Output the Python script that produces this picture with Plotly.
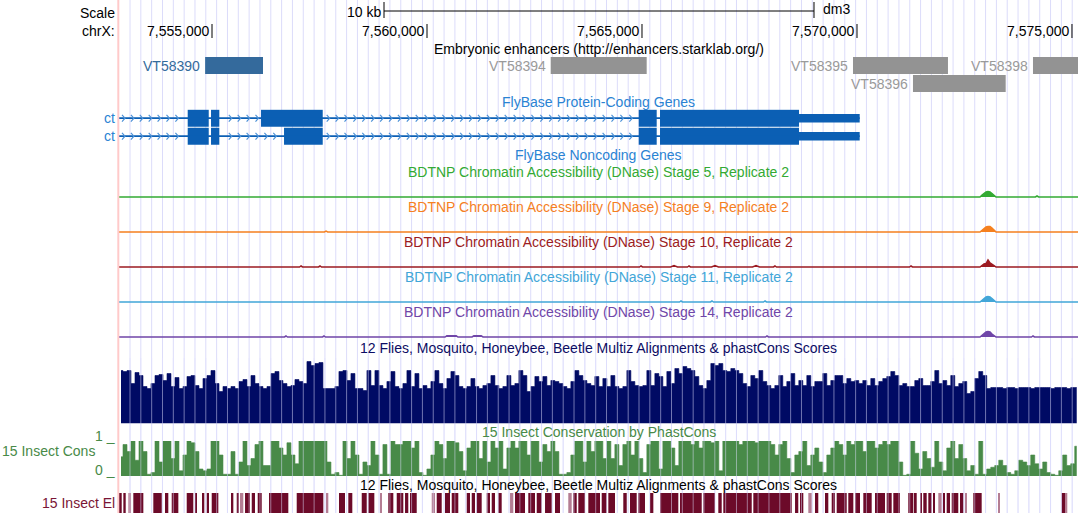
import numpy as np
import plotly.graph_objects as go

# ---------------------------------------------------------------- data
view_range = [7552837, 7575140]          # chrX window shown

ruler_ticks = [7555000, 7560000, 7565000, 7570000, 7575000]
ruler_tick_text = ["7,555,000", "7,560,000", "7,565,000", "7,570,000", "7,575,000"]
scale_bar = [7559000, 7569000]
scale_text = "10 kb"
assembly = "dm3"
chrom_label = "chrX:"

# Embryonic enhancers
enh_names = ["VT58390", "VT58394", "VT58395", "VT58396", "VT58398"]
enh_start = [7554840, 7562877, 7569907, 7571302, 7574093]
enh_end = [7556186, 7565109, 7572116, 7573458, 7576000]
enh_row = [0, 0, 0, 1, 0]

# FlyBase protein-coding genes (two ct transcripts)
gene_names = ["ct", "ct"]
gene_row = [0, 1]
gene_tx_start = [7552000, 7552000]
gene_cds_end = [7568652, 7568652]
gene_tx_end = [7570063, 7570063]
gene_exon_starts = [[7554435, 7554977, 7556140, 7564924, 7565419],
                    [7554435, 7554977, 7556675, 7564924, 7565419]]
gene_exon_ends = [[7554924, 7555170, 7557575, 7565342, 7570063],
                  [7554924, 7555170, 7557575, 7565342, 7570063]]

# BDTNP DNase accessibility (signal, arbitrary units)
dnase_titles = ["BDTNP Chromatin Accessibility (DNase) Stage 5, Replicate 2",
                "BDTNP Chromatin Accessibility (DNase) Stage 9, Replicate 2",
                "BDTNP Chromatin Accessibility (DNase) Stage 10, Replicate 2",
                "BDTNP Chromatin Accessibility (DNase) Stage 11, Replicate 2",
                "BDTNP Chromatin Accessibility (DNase) Stage 14, Replicate 2"]
stage5_pos = [7552837, 7572861, 7572908, 7572954, 7573001, 7573047, 7573094, 7573140, 7573187, 7573233,
              7574150, 7574187, 7574224, 7575140]
stage5_val = [0, 0, 2, 4, 5, 5.5, 5, 3.5, 1.5, 0, 0, 1, 0, 0]
stage9_pos = [7552837, 7557615, 7557652, 7557690,
              7572861, 7572908, 7572954, 7573001, 7573047, 7573094, 7573140, 7573187, 7573233, 7575140]
stage9_val = [0, 0, 0.8, 0, 0, 1.5, 3.5, 5, 5.5, 5.5, 4, 2, 0, 0]
stage10_pos = [7552837, 7557035, 7557070, 7557105, 7557477, 7557512, 7557547, 7564942, 7564977, 7565012,
               7565665, 7565745, 7565825, 7566058, 7566093, 7566128, 7566618, 7566698, 7566778,
               7567572, 7567652, 7567732, 7568058, 7568093, 7568128, 7569151, 7569186, 7569221,
               7571221, 7571256, 7571291,
               7572861, 7572908, 7572954, 7573001, 7573047, 7573094, 7573140, 7573187, 7573233, 7575140]
stage10_val = [0, 0, 1, 0, 0, 1, 0, 0, 1, 0,
               0, 1.5, 0, 0, 1, 0, 0, 1.5, 0,
               0, 1.5, 0, 0, 1, 0, 0, 0.7, 0,
               0, 1, 0,
               0, 2, 3, 3.5, 7, 4, 3, 1.5, 0, 0]
stage11_pos = [7552837, 7565872, 7565907, 7565942, 7566593, 7566628, 7566663, 7567826, 7567861, 7567896,
               7572861, 7572908, 7572954, 7573001, 7573047, 7573094, 7573140, 7573187, 7573233, 7575140]
stage11_val = [0, 0, 1, 0, 0, 1, 0, 0, 1, 0, 0, 1.5, 3.5, 5, 5.5, 5, 3.5, 1.5, 0, 0]
stage14_pos = [7552837, 7556686, 7556721, 7556756, 7557570, 7557605, 7557640,
               7560419, 7560460, 7560680, 7560721, 7561047, 7561090, 7561260, 7561303,
               7567872, 7567907, 7567942,
               7572861, 7572908, 7572954, 7573001, 7573047, 7573094, 7573140, 7573187, 7573233,
               7574058, 7574093, 7574128, 7575140]
stage14_val = [0, 0, 1, 0, 0, 1, 0,
               0, 1.2, 1.2, 0, 0, 1.2, 1.2, 0,
               0, 1, 0,
               0, 1.5, 3.5, 5, 5.5, 5, 3, 1.5, 0,
               0, 1, 0, 0]

# 12 flies multiz / phastCons scores, one value per 93 bp bin
cons_bin_start = 7552837
cons_bin_bp = 93
multiz_values = [
    53, 52, 53, 40, 51, 48, 37, 35, 40, 48, 49, 43, 50, 37, 46, 35, 37, 47, 48, 38,
    35, 45, 48, 53, 40, 32, 37, 35, 37, 35, 42, 44, 37, 48, 40, 37, 35, 37, 50, 52,
    43, 40, 37, 38, 44, 42, 40, 62, 58, 60, 61, 35, 35, 35, 37, 52, 53, 43, 50, 35,
    35, 33, 53, 38, 53, 38, 35, 42, 52, 37, 35, 40, 53, 37, 50, 35, 38, 35, 42, 53,
    40, 35, 45, 52, 48, 37, 35, 37, 45, 37, 35, 38, 40, 48, 38, 35, 37, 48, 38, 40,
    53, 48, 32, 37, 47, 42, 47, 38, 43, 42, 40, 37, 35, 42, 53, 48, 43, 40, 38, 47,
    37, 45, 37, 48, 37, 35, 37, 53, 42, 38, 37, 38, 53, 38, 50, 47, 37, 52, 40, 55,
    50, 57, 55, 53, 47, 38, 35, 43, 60, 58, 60, 53, 52, 55, 53, 50, 40, 37, 48, 45,
    53, 42, 38, 35, 38, 48, 37, 42, 50, 38, 43, 38, 48, 37, 42, 42, 50, 38, 43, 48,
    48, 40, 45, 42, 43, 40, 43, 38, 45, 38, 42, 45, 47, 52, 48, 38, 40, 37, 37, 43,
    45, 38, 38, 42, 53, 40, 43, 38, 48, 37, 40, 42, 30, 32, 45, 52, 48, 35, 36, 36,
    36, 35, 36, 36, 35, 36, 36, 36, 35, 36, 36, 36, 36, 35, 36, 36, 36, 35, 36, 36]
phastcons_values = [
    .55, .9, .7, 1, .45, 1, .7, .05, .1, 1, .4, 1, 1, .5, 1, .15, .6, 1, .95, .7,
    .2, .15, .2, 1, 1, .6, .05, .05, .7, .05, .4, 1, .3, .5, .9, 1, .3, .3, 1, 1,
    .8, .6, .95, .6, .35, 1, 1, 1, 1, 1, 1, 1, .4, .05, .1, .02, 1, .5, 1, .6,
    .05, .4, .3, 1, .6, .05, .9, .05, 1, .9, .9, 1, 1, .8, 1, .1, .02, .2, .6, 1,
    .9, .5, 1, 1, .95, .7, .15, .8, 1, 1, .5, 1, .4, 1, .8, 1, .2, .8, 1, .8,
    1, 1, .6, 1, 1, .4, .9, .7, 1, .7, .05, .05, .1, .6, 1, 1, .4, 1, .7, 1,
    1, .5, 1, .5, .9, .3, .9, 1, .6, 1, .5, .1, .9, 1, 1, .2, 1, 1, .8, .3,
    1, 1, 1, .9, 1, .8, 1, 1, .95, 1, .15, 1, 1, 1, 1, .9, 1, 1, 1, .95,
    1, 1, 1, .9, .6, .9, 1, .5, .1, .6, .7, 1, .3, .6, .8, .4, .1, .6, .8, 1,
    .9, .6, 1, .9, 1, 1, .7, 1, 1, .8, .9, 1, .9, 1, 1, .4, .02, .05, 1, .65,
    .2, .7, .5, .25, 1, .4, .15, .8, 1, .5, .9, .5, .15, .3, .05, 1, .05, .2, .25, .3,
    .45, .3, .1, .05, .15, .45, .4, .3, .6, .35, .2, .4, .1, .05, .02, .15, .6, .3, .35, .85]

# 15 insect conserved elements
el_start = [7552854, 7552938, 7553054, 7553170, 7553635, 7553907, 7554063, 7554412, 7554605, 7554775,
            7554877, 7554993, 7555458, 7555575, 7555651, 7555768, 7555924, 7556063, 7556326, 7556970,
            7557668, 7557954, 7558170, 7558482, 7558635, 7558907, 7559100, 7559296, 7559489, 7559605,
            7560110, 7560226, 7560419, 7560575, 7560924, 7561040, 7561156, 7561389, 7561505, 7561659,
            7561931, 7562047, 7562356, 7562552, 7562745, 7562977, 7563286, 7563403, 7563519, 7563752,
            7564063, 7564217, 7564565, 7564721, 7564914, 7565186, 7565419, 7565884, 7566426, 7566775,
            7566891, 7567589, 7568559, 7568675, 7568868, 7569024, 7569256, 7569412, 7569528, 7569798,
            7569954, 7570147, 7570419, 7570691, 7570845, 7571193, 7571349, 7571466, 7571542, 7571659,
            7571775, 7571891, 7572007, 7572086, 7572203, 7572396, 7572512, 7572705, 7573287, 7574761,
            7574854]
el_end = [7552900, 7552993, 7553117, 7553403, 7553831, 7553984, 7554217, 7554565, 7554645, 7554821,
          7554930, 7555147, 7555496, 7555628, 7555728, 7555884, 7556000, 7556156, 7556775, 7557589,
          7557705, 7558093, 7558263, 7558598, 7558775, 7558947, 7559217, 7559449, 7559565, 7559761,
          7560186, 7560342, 7560535, 7560728, 7561000, 7561117, 7561272, 7561465, 7561582, 7561737,
          7562007, 7562279, 7562512, 7562668, 7562900, 7563093, 7563365, 7563482, 7563675, 7564024,
          7564179, 7564372, 7564645, 7564877, 7565070, 7565264, 7565845, 7566389, 7566698, 7566854,
          7567552, 7568482, 7568635, 7568752, 7568947, 7569100, 7569333, 7569489, 7569761, 7569915,
          7570070, 7570342, 7570652, 7570807, 7571000, 7571310, 7571389, 7571505, 7571621, 7571737,
          7571814, 7571970, 7572047, 7572163, 7572356, 7572473, 7572552, 7572900, 7573326, 7574838,
          7574891]
el_score = [1000, 1000, 500, 1000, 1000, 1000, 1000, 1000, 1000, 1000,
            1000, 1000, 1000, 1000, 500, 1000, 1000, 1000, 1000, 1000,
            500, 1000, 1000, 1000, 1000, 500, 1000, 1000, 1000, 1000,
            500, 1000, 1000, 1000, 1000, 1000, 1000, 1000, 1000, 1000,
            500, 1000, 1000, 1000, 1000, 1000, 500, 1000, 1000, 1000,
            1000, 1000, 1000, 1000, 1000, 1000, 1000, 1000, 1000, 1000,
            1000, 1000, 1000, 1000, 500, 1000, 1000, 1000, 1000, 1000,
            1000, 1000, 1000, 1000, 1000, 1000, 1000, 1000, 1000, 1000,
            1000, 500, 1000, 1000, 1000, 1000, 500, 1000, 500, 1000,
            500]

# ---------------------------------------------------------------- layout helpers
FIG_W, FIG_H = 1078, 513
MARGIN_L = 119
PLOT_W = FIG_W - MARGIN_L
FONT = "Liberation Sans, Arial, Helvetica, sans-serif"
BP_PER_PX = (view_range[1] - view_range[0]) / PLOT_W


def py2p(py):
    return 1 - py / FIG_H


def px2p(px):
    return (px - MARGIN_L) / PLOT_W


def dom(top, bottom):
    return [py2p(bottom), py2p(top)]


GENE_BLUE = "#0b5fb4"
LABEL_BLUE = "#2a83d3"
dnase_colors = ["#33aa33", "#f5801f", "#9c1b22", "#42a6d8", "#7046a8"]
dnase_baseline_py = [197, 232, 267, 302, 337]
dnase_title_py = [172, 207, 242, 277, 312]
NAVY = "#000a64"
CONS_GREEN = "#488a48"
EL_DARK = "#6c0a29"
EL_LIGHT = "#b47d93"

fig = go.Figure()
annotations = []
shapes = []

# ---------------------------------------------------------------- guidelines
grid_pos = np.arange(view_range[0] + 11 * BP_PER_PX, view_range[1], 10.83 * BP_PER_PX)
for g in grid_pos:
    shapes.append(dict(type="line", xref="x", yref="paper", x0=g, x1=g, y0=0, y1=1,
                       line=dict(color="#dcdcfa", width=1), layer="below"))
    shapes.append(dict(type="line", xref="x", yref="paper", x0=g, x1=g, y0=py2p(513), y1=py2p(358),
                       line=dict(color="rgba(225,225,255,0.5)", width=1), layer="above"))
shapes.append(dict(type="line", xref="paper", yref="paper", x0=px2p(118.3), x1=px2p(118.3), y0=0, y1=1,
                   line=dict(color="#ffcaca", width=2), layer="above"))

# ---------------------------------------------------------------- ruler
annotations.append(dict(text="Scale", xref="paper", yref="paper", x=px2p(117), y=py2p(13),
                        xanchor="right", yanchor="middle", showarrow=False, font=dict(family=FONT, size=14, color="black")))
annotations.append(dict(text=chrom_label, xref="paper", yref="paper", x=px2p(117), y=py2p(31),
                        xanchor="right", yanchor="middle", showarrow=False, font=dict(family=FONT, size=14, color="black")))
for t, txt in zip(ruler_ticks, ruler_tick_text):
    shapes.append(dict(type="line", xref="x", yref="paper", x0=t, x1=t, y0=py2p(24), y1=py2p(38),
                       line=dict(color="black", width=1)))
    annotations.append(dict(text=txt, xref="x", yref="paper", x=t, y=py2p(31), xanchor="right", xshift=-1,
                            yanchor="middle", showarrow=False, font=dict(family=FONT, size=14, color="black")))
shapes.append(dict(type="line", xref="x", yref="paper", x0=scale_bar[0], x1=scale_bar[1], y0=py2p(11), y1=py2p(11),
                   line=dict(color="black", width=1)))
for s in scale_bar:
    shapes.append(dict(type="line", xref="x", yref="paper", x0=s, x1=s, y0=py2p(2), y1=py2p(18),
                       line=dict(color="black", width=1)))
annotations.append(dict(text=scale_text, xref="x", yref="paper", x=scale_bar[0], y=py2p(12), xanchor="right", xshift=-1,
                        yanchor="middle", showarrow=False, font=dict(family=FONT, size=14, color="black")))
annotations.append(dict(text=assembly, xref="x", yref="paper", x=scale_bar[1], y=py2p(9), xanchor="left", xshift=7,
                        yanchor="middle", showarrow=False, font=dict(family=FONT, size=14, color="black")))


def title(text, py, color):
    annotations.append(dict(text=text, xref="paper", yref="paper", x=0.5, y=py2p(py), xanchor="center",
                            yanchor="middle", showarrow=False, font=dict(family=FONT, size=14, color=color)))


# ---------------------------------------------------------------- enhancers
title("Embryonic enhancers (http://enhancers.starklab.org/)", 49, "black")
enh_colors = ["#346a9c" if i == 0 else "#939393" for i in range(len(enh_names))]
enh_label_colors = ["#346a9c" if i == 0 else "#9a9a9a" for i in range(len(enh_names))]
fig.add_trace(go.Bar(orientation="h", y=enh_row, base=enh_start,
                     x=[e - s for s, e in zip(enh_start, enh_end)], width=0.94,
                     marker=dict(color=enh_colors, line=dict(width=0)), xaxis="x", yaxis="y",
                     hoverinfo="skip", showlegend=False))
for n, s, r, c in zip(enh_names, enh_start, enh_row, enh_label_colors):
    annotations.append(dict(text=n, xref="x", yref="y", x=s, y=r, xanchor="right", xshift=-3,
                            yanchor="middle", showarrow=False, font=dict(family=FONT, size=14, color=c)))

# ---------------------------------------------------------------- genes
title("FlyBase Protein-Coding Genes", 102, LABEL_BLUE)
title("FlyBase Noncoding Genes", 155, LABEL_BLUE)
chev_first = view_range[0] + 6 * BP_PER_PX
chev_step = 8.9 * BP_PER_PX
chev_w = 3.0 * BP_PER_PX
for k in range(len(gene_names)):
    row = gene_row[k]
    fig.add_trace(go.Scatter(x=[gene_tx_start[k], gene_tx_end[k]], y=[row, row], mode="lines",
                             line=dict(color=GENE_BLUE, width=1.8), xaxis="x", yaxis="y2",
                             hoverinfo="skip", showlegend=False))
    starts, ends = gene_exon_starts[k], gene_exon_ends[k]
    thick_b, thick_l, thin_b, thin_l = [], [], [], []
    for s, e in zip(starts, ends):
        ce = min(e, gene_cds_end[k])
        if ce > s:
            thick_b.append(s); thick_l.append(ce - s)
        if e > gene_cds_end[k]:
            ts = max(s, gene_cds_end[k])
            thin_b.append(ts); thin_l.append(e - ts)
    fig.add_trace(go.Bar(orientation="h", y=[row] * len(thick_b), base=thick_b, x=thick_l, width=0.94,
                         marker=dict(color=GENE_BLUE, line=dict(width=0)), xaxis="x", yaxis="y2",
                         hoverinfo="skip", showlegend=False))
    fig.add_trace(go.Bar(orientation="h", y=[row] * len(thin_b), base=thin_b, x=thin_l, width=0.48,
                         marker=dict(color=GENE_BLUE, line=dict(width=0)), xaxis="x", yaxis="y2",
                         hoverinfo="skip", showlegend=False))
    # intron chevrons
    gaps = [(gene_tx_start[k], starts[0])] + list(zip(ends[:-1], starts[1:]))
    cx, cy = [], []
    for p in np.arange(chev_first, gene_tx_end[k], chev_step):
        if any(a + 20 <= p - chev_w and p <= b - 20 for a, b in gaps):
            cx += [p - chev_w, p, p - chev_w, None]
            cy += [row - 0.19, row, row + 0.19, None]
    fig.add_trace(go.Scatter(x=cx, y=cy, mode="lines", line=dict(color="#4f93d8", width=1.2),
                             xaxis="x", yaxis="y2", hoverinfo="skip", showlegend=False))
    annotations.append(dict(text=gene_names[k], xref="paper", yref="y2", x=px2p(117), y=row,
                            xanchor="right", yanchor="middle", showarrow=False,
                            font=dict(family=FONT, size=14, color=LABEL_BLUE)))

# ---------------------------------------------------------------- DNase tracks
dnase_data = [(stage5_pos, stage5_val), (stage9_pos, stage9_val), (stage10_pos, stage10_val),
              (stage11_pos, stage11_val), (stage14_pos, stage14_val)]
for j, (pos, val) in enumerate(dnase_data):
    title(dnase_titles[j], dnase_title_py[j], dnase_colors[j])
    fig.add_trace(go.Scatter(x=pos, y=val, mode="lines", fill="tozeroy", fillcolor=dnase_colors[j],
                             line=dict(color=dnase_colors[j], width=1.5), xaxis="x", yaxis=f"y{3 + j}",
                             hoverinfo="skip", showlegend=False, cliponaxis=False))

# ---------------------------------------------------------------- conservation
cons_pos = [cons_bin_start + (i + 0.5) * cons_bin_bp for i in range(len(multiz_values))]
title("12 Flies, Mosquito, Honeybee, Beetle Multiz Alignments & phastCons Scores", 348, "#0c0c64")
fig.add_trace(go.Scatter(x=cons_pos, y=multiz_values, mode="lines", fill="tozeroy", fillcolor=NAVY,
                         line=dict(color=NAVY, width=0.6, shape="hvh"), xaxis="x", yaxis="y8",
                         hoverinfo="skip", showlegend=False, cliponaxis=False))

title("15 Insect Conservation by PhastCons", 432, CONS_GREEN)
fig.add_trace(go.Scatter(x=cons_pos, y=phastcons_values, mode="lines", fill="tozeroy", fillcolor=CONS_GREEN,
                         line=dict(color=CONS_GREEN, width=0.6, shape="hvh"), xaxis="x", yaxis="y9",
                         hoverinfo="skip", showlegend=False, cliponaxis=False))
annotations.append(dict(text="15 Insect Cons", xref="paper", yref="paper", x=px2p(0), y=py2p(451),
                        xanchor="left", yanchor="middle", showarrow=False, font=dict(family=FONT, size=14, color=CONS_GREEN)))
annotations.append(dict(text="1 _", xref="paper", yref="paper", x=px2p(117), y=py2p(436),
                        xanchor="right", yanchor="middle", showarrow=False, font=dict(family=FONT, size=14, color=CONS_GREEN)))
annotations.append(dict(text="0 _", xref="paper", yref="paper", x=px2p(117), y=py2p(470),
                        xanchor="right", yanchor="middle", showarrow=False, font=dict(family=FONT, size=14, color=CONS_GREEN)))

title("12 Flies, Mosquito, Honeybee, Beetle Multiz Alignments & phastCons Scores", 485, "black")
fig.add_trace(go.Bar(orientation="h", y=[0] * len(el_start), base=el_start,
                     x=[e - s for s, e in zip(el_start, el_end)], width=1,
                     marker=dict(color=[EL_DARK if sc >= 800 else EL_LIGHT for sc in el_score], line=dict(width=0)),
                     xaxis="x", yaxis="y10", hoverinfo="skip", showlegend=False))
annotations.append(dict(text="15 Insect El", xref="paper", yref="paper", x=px2p(117), y=py2p(503),
                        xanchor="right", yanchor="middle", showarrow=False, font=dict(family=FONT, size=14, color="#7a1535")))

# ---------------------------------------------------------------- axes
hidden = dict(visible=False, fixedrange=True, anchor="x")
layout_axes = dict(
    xaxis=dict(range=view_range, visible=False, fixedrange=True, domain=[0, 1]),
    yaxis=dict(hidden, domain=dom(56.5, 92.5), range=[1.5, -0.5]),
    yaxis2=dict(hidden, domain=dom(109.2, 145.2), range=[1.5, -0.5]),
    yaxis8=dict(hidden, domain=dom(359.5, 423.5), range=[0, 64]),
    yaxis9=dict(hidden, domain=dom(441, 476), range=[0, 1]),
    yaxis10=dict(hidden, domain=dom(493, 513), range=[-0.5, 0.5]),
)
for j, b in enumerate(dnase_baseline_py):
    layout_axes[f"yaxis{3 + j}"] = dict(hidden, domain=dom(b - 19, b + 1), range=[-1, 19])

fig.update_layout(
    width=FIG_W, height=FIG_H, autosize=False,
    margin=dict(l=MARGIN_L, r=0, t=0, b=0, pad=0),
    paper_bgcolor="white", plot_bgcolor="white",
    template="none", barmode="overlay", showlegend=False,
    annotations=annotations, shapes=shapes,
    font=dict(family=FONT, size=14),
    **layout_axes,
)

fig.write_html("out.html", config={"displayModeBar": False},
               post_script="document.body.style.margin='0';document.body.style.overflow='hidden';")
